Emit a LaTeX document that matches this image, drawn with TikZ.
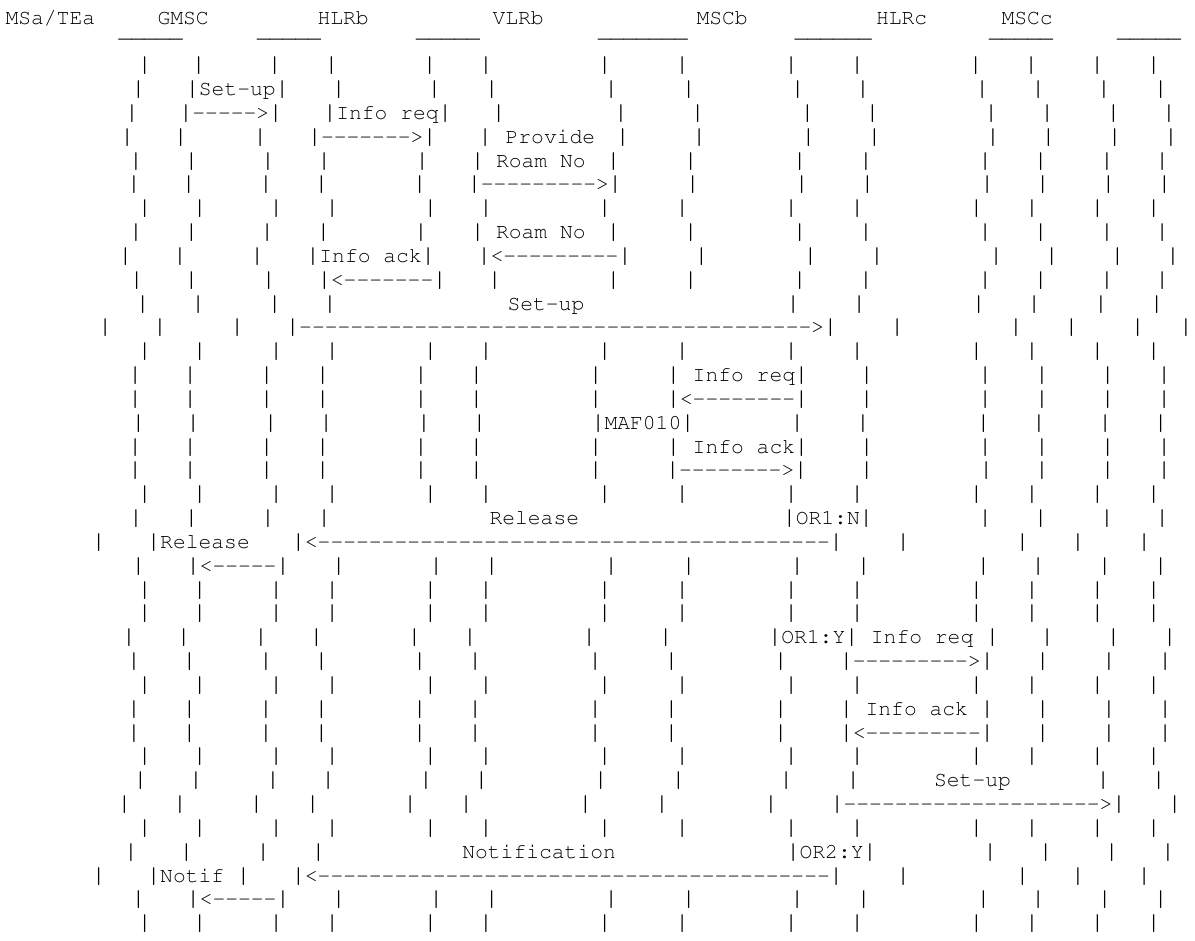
\documentclass[tikz,border=0pt]{standalone}
\usepackage[T1]{fontenc}
\usepackage{graphicx}
\newcommand\dd[1]{\foreach\k in {1,...,#1}{-}}
\newcommand\barglyph{\makebox[0.6em]{\scalebox{1.5}[1.15]{\char124}}}
\tikzset{tx/.style={anchor=base west,inner sep=0pt,outer sep=0pt,
  font=\fontencoding{T1}\fontfamily{pcr}\fontseries{m}\fontshape{n}\fontsize{10.67pt}{12pt}\selectfont}}
\newcommand\R[2]{\foreach \x/\t [count=\i] in {#2} {\node[tx] (r#1c\i) at ({\x-6.4},{71.8+(#1-3)*23.83}) {\t};}}
\catcode`\|=\active
\def|{\barglyph}
\newcommand\B[1]{\R{#1}{144.7/|,199.8/|,276.3/|,332.2/|,430.5/|,486.0/|,604.6/|,682.3/|,791.3/|,857.1/|,976.5/|,1032.0/|,1097.5/|,1153.7/|}}
\begin{document}
\begin{tikzpicture}[x=0.5pt,y=-0.5pt]
\fill[white] (0,0) rectangle (1195,941);
\useasboundingbox (0,0) rectangle (1195,941);
% header
\node[tx] (h1) at (5.5,24.1) {MSa/TEa};
\node[tx] (h2) at (157.5,24.1) {GMSC};
\node[tx] (h3) at (317.5,24.1) {HLRb};
\node[tx] (h4) at (492.5,24.1) {VLRb};
\node[tx] (h5) at (696.5,24.1) {MSCb};
\node[tx] (h6) at (876,24.1) {HLRc};
\node[tx] (h7) at (1001.5,24.1) {MSCc};
% underscores
\node[tx] (u1) at (118.6,38) {\_\_\_\_\_};
\node[tx] (u2) at (257,38) {\_\_\_\_\_};
\node[tx] (u3) at (416,38) {\_\_\_\_\_};
\node[tx] (u4) at (598,38) {\_\_\_\_\_\_\_};
\node[tx] (u5) at (794.8,38) {\_\_\_\_\_\_};
\node[tx] (u6) at (989,38) {\_\_\_\_\_};
\node[tx] (u7) at (1117,38) {\_\_\_\_\_};
% rows
\R{3}{144.7/|,198.6/|,274.8/|,331.4/|,429.8/|,486.0/|,604.6/|,682.3/|,791.3/|,857.1/|,975.8/|,1031.3/|,1097.1/|,1153.7/|}
\R{4}{138.5/|,192.5/|Set-up|,338.7/|,434.4/|,491.8/|,611.1/|,688.8/|,797.8/|,862.9/|,982.3/|,1038.2/|,1104.0/|,1160.6/|}
\R{5}{132.0/|,186.0/|\dd{5}>|,329.9/|Info req|,498.6/|,621.0/|,697.6/|,807.4/|,872.5/|,991.1/|,1047.3/|,1113.5/|,1169.0/|}
\R{6}{127.1/|,180.6/|,260.2/|,314.6/|\dd{7}>|,485.3/|,512.0/Provide,622.6/|,699.1/|,808.5/|,874.4/|,993.0/|,1048.5/|,1114.7/|,1171.0/|}
\R{7}{135.9/|,191.4/|,267.9/|,324.1/|,422.1/|,477.6/|,502.4/Roam No,613.4/|,690.7/|,799.7/|,866.0/|,985.3/|,1040.8/|,1107.0/|,1162.2/|}
\R{8}{133.9/|,188.7/|,266.0/|,321.5/|,419.8/|,474.5/|\dd{9}>|,692.6/|,801.7/|,867.5/|,987.3/|,1042.8/|,1108.5/|,1164.5/|}
\B{9}
\R{10}{135.9/|,191.4/|,267.1/|,323.4/|,421.0/|,477.6/|,502.4/Roam No,613.4/|,690.7/|,799.7/|,866.0/|,985.3/|,1040.8/|,1107.0/|,1162.2/|}
\R{11}{125.5/|,179.9/|,257.2/|,313.0/|Info ack|,484.1/|<\dd{9}|,701.4/|,810.5/|,877.0/|,996.1/|,1051.6/|,1117.4/|,1172.9/|}
\R{12}{136.6/|,191.4/|,268.7/|,324.5/|<\dd{7}|,494.8/|,613.4/|,690.7/|,799.7/|,866.0/|,985.3/|,1040.8/|,1107.0/|,1162.2/|}
\R{13}{142.7/|,198.2/|,274.8/|,329.9/|,513.9/Set-up,793.2/|,859.1/|,978.8/|,1034.3/|,1100.9/|,1156.8/|}
\R{14}{105.2/|,160.0/|,237.3/|,292.8/|\dd{40}>|,897.3/|,1016.0/|,1071.5/|,1137.7/|,1186.0/|}
\B{15}
\R{16}{135.1/|,190.2/|,266.7/|,322.6/|,421.0/|,476.4/|,595.8/|,673.5/|{} Info req|,866.7/|,985.3/|,1041.9/|,1107.8/|,1164.1/|}
\R{17}{135.1/|,190.2/|,266.7/|,322.6/|,421.0/|,476.4/|,595.8/|,673.5/|<\dd{8}|,866.7/|,985.3/|,1041.9/|,1107.8/|,1164.1/|}
\R{18}{138.5/|,193.3/|,270.6/|,326.1/|,424.0/|,479.5/|,598.1/|MAF010|,797.1/|,862.9/|,983.4/|,1038.9/|,1105.1/|,1160.6/|}
\R{19}{135.1/|,190.2/|,266.7/|,322.6/|,421.0/|,476.4/|,595.8/|,673.5/|{} Info ack|,866.7/|,985.3/|,1041.9/|,1107.8/|,1164.1/|}
\R{20}{135.1/|,190.2/|,266.7/|,322.6/|,421.0/|,476.4/|,595.8/|,672.7/|\dd{8}>|,866.7/|,986.1/|,1041.9/|,1107.8/|,1164.1/|}
\B{21}
\R{22}{135.9/|,191.4/|,267.9/|,324.1/|,495.9/Release,789.4/|OR1:N|,985.3/|,1040.8/|,1107.0/|,1162.2/|}
\R{23}{98.7/|,153.8/|Release,298.5/|<\dd{40}|,903.1/|,1022.5/|,1077.9/|,1144.2/|}
\R{24}{138.5/|,193.3/|<\dd{5}|,338.7/|,436.3/|,491.8/|,611.1/|,688.8/|,797.1/|,863.7/|,983.4/|,1038.2/|,1104.7/|,1160.6/|}
\B{25}
\B{26}
\R{27}{128.9/|,183.7/|,261.0/|,316.5/|,414.4/|,469.9/|,589.3/|,665.8/|,774.9/|OR1:Y|{} Info req |,1047.3/|,1113.5/|,1169.8/|}
\R{28}{133.9/|,189.4/|,266.0/|,321.5/|,419.8/|,475.3/|,595.1/|,671.5/|,780.6/|,846.4/|\dd{9}>|,1042.7/|,1109.0/|,1165.2/|}
\B{29}
\R{30}{133.9/|,189.4/|,266.0/|,321.5/|,419.8/|,475.3/|,595.1/|,671.5/|,780.6/|,846.4/|{} Info ack |,1042.7/|,1109.0/|,1165.2/|}
\R{31}{133.9/|,189.4/|,266.0/|,321.5/|,419.8/|,475.3/|,595.1/|,671.5/|,780.6/|,846.4/|<\dd{9}|,1042.7/|,1109.0/|,1165.2/|}
\B{32}
\R{33}{140.4/|,195.9/|,272.9/|,328.3/|,425.9/|,481.4/|,600.7/|,678.4/|,786.3/|,853.3/|,940.5/Set-up,1103.2/|,1158.7/|}
\R{34}{124.4/|,179.9/|,256.4/|,312.7/|,410.2/|,466.1/|,585.5/|,662.0/|,771.0/|,837.2/|\dd{20}>|,1174.8/|}
\B{35}
\R{36}{130.9/|,186.4/|,263.3/|,318.4/|,468.7/Notification,793.2/|OR2:Y|,990.3/|,1045.8/|,1111.6/|,1167.9/|}
\R{37}{98.7/|,153.8/|Notif |,298.5/|<\dd{40}|,903.1/|,1022.5/|,1077.9/|,1144.2/|}
\R{38}{138.5/|,193.3/|<\dd{5}|,338.7/|,436.3/|,491.8/|,611.1/|,688.8/|,797.1/|,863.7/|,983.4/|,1038.2/|,1104.7/|,1160.6/|}
\B{39}
\end{tikzpicture}
\end{document}
